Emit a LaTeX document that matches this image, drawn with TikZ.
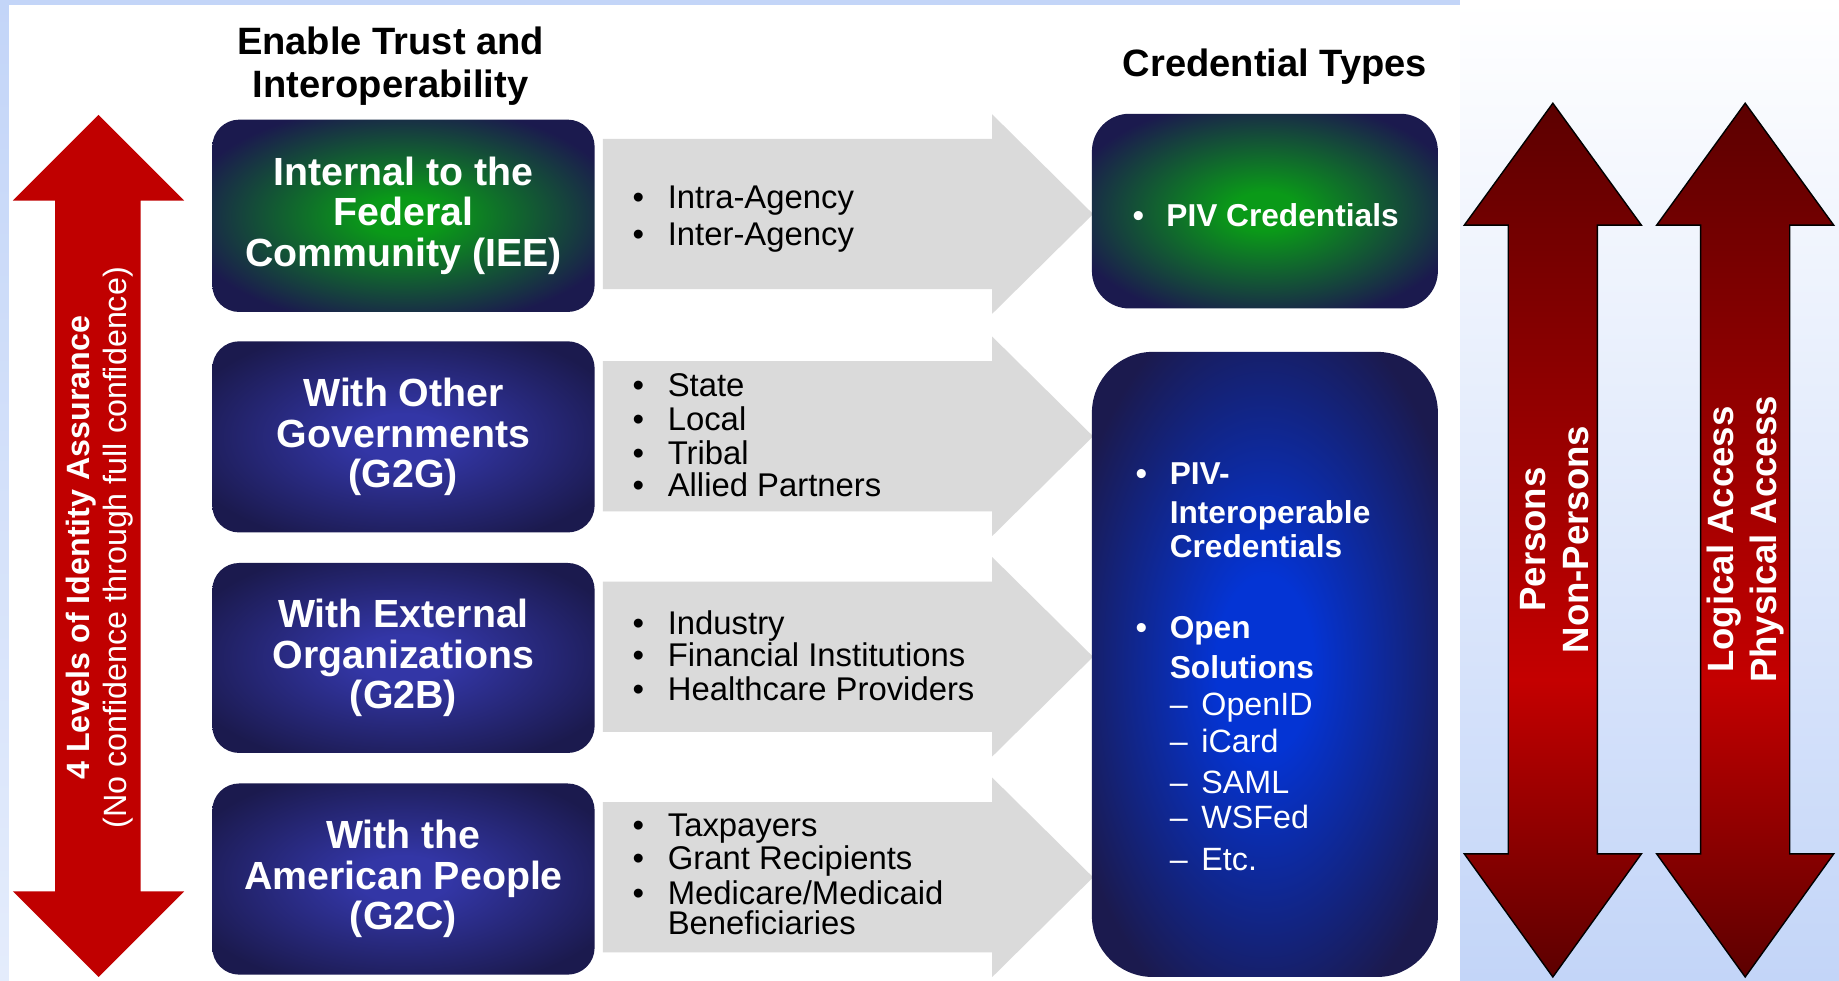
\documentclass[tikz,border=0pt]{standalone}
\usepackage{fontspec}
\setmainfont{Liberation Sans}
\definecolor{navy}{HTML}{1B1A4E}
\definecolor{midblue}{HTML}{3336A6}
\definecolor{glowgreen}{HTML}{0A9A18}
\definecolor{glowblue}{HTML}{0434D4}
\definecolor{arrowgrey}{HTML}{DADADA}
\definecolor{levelred}{HTML}{C00000}
\definecolor{darkred}{HTML}{5C0000}
\definecolor{brightred}{HTML}{C40000}
\definecolor{bgblue}{HTML}{C3D5F8}
\pgfdeclareverticalshading{redbar}{100bp}{color(0bp)=(darkred); color(25bp)=(darkred); color(42bp)=(brightred); color(75bp)=(darkred); color(100bp)=(darkred)}
\pgfdeclareradialshading{glowG}{\pgfpointorigin}{color(0bp)=(glowgreen); color(5bp)=(glowgreen); color(29bp)=(navy); color(50bp)=(navy)}
\pgfdeclareradialshading{glowM}{\pgfpointorigin}{color(0bp)=(midblue); color(6bp)=(midblue); color(30bp)=(navy); color(50bp)=(navy)}
\pgfdeclareradialshading{glowB}{\pgfpointorigin}{color(0bp)=(glowblue); color(7bp)=(glowblue); color(30bp)=(navy); color(50bp)=(navy)}
\newcommand\mkbul[1]{\makebox[#1][l]{•}}
\newcommand\mkdash[1]{\makebox[#1][l]{–}}
\tikzset{
  boxtxt/.style={text=white, align=center, font=\fontsize{16.75}{17.25}\selectfont\bfseries, inner sep=0pt},
  titletxt/.style={text=black, align=center, font=\fontsize{16.25}{18.5}\selectfont\bfseries, inner sep=0pt},
  item/.style={anchor=west, inner sep=0pt, text height=10pt, text depth=0pt, font=\fontsize{14}{14}\selectfont, text=black},
  citem/.style={anchor=west, inner sep=0pt, text height=9.7pt, text depth=0pt, text=white, font=\fontsize{13.5}{13.5}\selectfont\bfseries},
  csub/.style={anchor=west, inner sep=0pt, text height=9.8pt, text depth=0pt, text=white, font=\fontsize{13.75}{13.75}\selectfont},
  vtxt/.style={rotate=90, align=center, text=white, inner sep=0pt},
}
\begin{document}
\begin{tikzpicture}[x=0.5pt, y=-0.5pt]
\useasboundingbox (0,0) rectangle (1568,836);
% background
\shade[top color=bgblue, bottom color=bgblue!45] (0,0) rectangle (1245,836);
\fill[bgblue] (0,0) rectangle (1245,4);
\fill[white] (8,4) rectangle (1245,836);
\shade[top color=white, bottom color=bgblue] (1245,0) rectangle (1568,836);

% titles
\node[titletxt] (ttl1) at (333,56.5) {Enable Trust and\\Interoperability};
\node[titletxt] (ttl2) at (1087,57) {Credential Types};

% left level arrow
\fill[levelred] (84,98) -- (157,171) -- (120,171) -- (120,760) -- (157,760) -- (84,833) -- (11,760) -- (47,760) -- (47,171) -- (11,171) -- cycle;
\node[vtxt, font=\fontsize{13.75}{16}\selectfont] (lvl) at (85,467) {{\bfseries 4 Levels of Identity Assurance}\\(No confidence through full confidence)};

% grey block arrows
\foreach \c in {182.5,372,560,748} {
  \fill[arrowgrey] (514,\c-64) -- (846,\c-64) -- (846,\c-85) -- (932,\c) -- (846,\c+85) -- (846,\c+64) -- (514,\c+64) -- cycle;
}

% left boxes
\shade[shading=glowG, rounded corners=11.5pt] (181,102) rectangle (507,266);
\shade[shading=glowM, rounded corners=11.5pt] (181,291) rectangle (507,454);
\shade[shading=glowM, rounded corners=11.5pt] (181,480) rectangle (507,642);
\shade[shading=glowM, rounded corners=11.5pt] (181,668) rectangle (507,831);
\node[boxtxt] (iee) at (344,184) {Internal to the\\Federal\\Community (IEE)};
\node[boxtxt] (g2g) at (344,372.5) {With Other\\Governments\\(G2G)};
\node[boxtxt] (g2b) at (344,561) {With External\\Organizations\\(G2B)};
\node[boxtxt] (g2c) at (344,749.5) {With the\\American People\\(G2C)};

% list items
\node[item] (i1a) at (539,168) {\mkbul{15pt}Intra-Agency};
\node[item] (i1b) at (539,199) {\mkbul{15pt}Inter-Agency};
\node[item] (i2a) at (539,328) {\mkbul{15pt}State};
\node[item] (i2b) at (539,357) {\mkbul{15pt}Local};
\node[item] (i2c) at (539,386) {\mkbul{15pt}Tribal};
\node[item] (i2d) at (539,413) {\mkbul{15pt}Allied Partners};
\node[item] (i3a) at (539,531) {\mkbul{15pt}Industry};
\node[item] (i3b) at (539,558.5) {\mkbul{15pt}Financial Institutions};
\node[item] (i3c) at (539,587) {\mkbul{15pt}Healthcare Providers};
\node[item] (i4a) at (539,703.5) {\mkbul{15pt}Taxpayers};
\node[item] (i4b) at (539,731) {\mkbul{15pt}Grant Recipients};
\node[item] (i4c) at (539,761.5) {\mkbul{15pt}Medicare/Medicaid};
\node[item] (i4d) at (569,787) {Beneficiaries};

% right boxes
\shade[shading=glowG, rounded corners=16pt] (931,97) rectangle (1226,263);
\shade[shading=glowB, rounded corners=26pt] (931,300) rectangle (1226,833);
\node[citem] (piv) at (965.5,183) {\mkbul{14.3pt}PIV Credentials};
\node[citem] (pivi1) at (968,403) {\mkbul{14.5pt}PIV-};
\node[citem] (pivi2) at (997,437) {Interoperable};
\node[citem] (pivi3) at (997,466) {Credentials};
\node[citem] (open1) at (968,535) {\mkbul{14.5pt}Open};
\node[citem] (open2) at (997,569) {Solutions};
\node[csub] (s1) at (997,600) {\mkdash{13.5pt}OpenID};
\node[csub] (s2) at (997,632) {\mkdash{13.5pt}iCard};
\node[csub] (s3) at (997,667) {\mkdash{13.5pt}SAML};
\node[csub] (s4) at (997,697) {\mkdash{13.5pt}WSFed};
\node[csub] (s5) at (997,732) {\mkdash{13.5pt}Etc.};

% right double arrows
\foreach \c in {1324,1488} {
  \shade[shading=redbar, draw=black, line width=0.6pt] (\c,88) -- (\c+75.5,192) -- (\c+38,192) -- (\c+38,728) -- (\c+75.5,728) -- (\c,833) -- (\c-75.5,728) -- (\c-38,728) -- (\c-38,192) -- (\c-75.5,192) -- cycle;
}
\node[vtxt, font=\fontsize{15.6}{18.5}\selectfont\bfseries] (pers) at (1325.5,460) {Persons\\Non-Persons};
\node[vtxt, font=\fontsize{15.6}{18.5}\selectfont\bfseries] (acc) at (1488.5,460) {Logical Access\\Physical Access};
\end{tikzpicture}
\end{document}
